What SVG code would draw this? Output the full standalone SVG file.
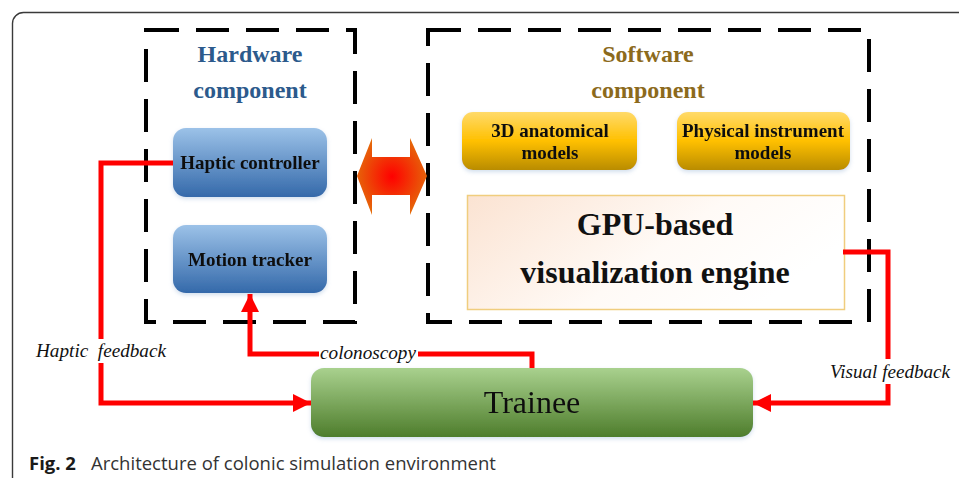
<svg xmlns="http://www.w3.org/2000/svg" width="959" height="478" viewBox="0 0 959 478">
  <style>
    .frame { fill: none; stroke: #3a3a3a; stroke-width: 1.4; }
    .dash { fill: none; stroke: #000; stroke-width: 4; stroke-dasharray: 33 17; }
    .title { font-family: "Liberation Serif", serif; font-weight: bold; font-size: 24px; text-anchor: middle; }
    .bold16 { font-family: "Liberation Serif", serif; font-weight: bold; font-size: 19px; text-anchor: middle; fill: #111; }
    .big { font-family: "Liberation Serif", serif; font-weight: bold; font-size: 32px; text-anchor: middle; fill: #111; }
    .lbl { font-family: "Liberation Serif", serif; font-style: italic; font-size: 18px; fill: #111; }
    .wire { fill: none; stroke: #ff0000; stroke-width: 5; stroke-linejoin: miter; }
    .cap { font-family: "Open Sans", "Noto Sans", sans-serif; font-size: 18.5px; }
  </style>
  <defs>
    <linearGradient id="blue" x1="0" y1="0" x2="0" y2="1">
      <stop offset="0" stop-color="#9cc2e8"/>
      <stop offset="1" stop-color="#3469aa"/>
    </linearGradient>
    <linearGradient id="gold" x1="0" y1="0" x2="0" y2="1">
      <stop offset="0" stop-color="#ffda6a"/>
      <stop offset="0.5" stop-color="#ffc000"/>
      <stop offset="1" stop-color="#b98c00"/>
    </linearGradient>
    <linearGradient id="green" x1="0" y1="0" x2="0" y2="1">
      <stop offset="0" stop-color="#a9d18e"/>
      <stop offset="1" stop-color="#4e7d2c"/>
    </linearGradient>
    <linearGradient id="peach" x1="0" y1="0" x2="1" y2="0.4">
      <stop offset="0" stop-color="#fbe3d2"/>
      <stop offset="0.6" stop-color="#fffaf6"/>
      <stop offset="1" stop-color="#ffffff"/>
    </linearGradient>
    <radialGradient id="hot" cx="0.5" cy="0.5" r="0.55">
      <stop offset="0" stop-color="#ff0000"/>
      <stop offset="1" stop-color="#e46c0a"/>
    </radialGradient>
    <filter id="glow" x="-10%" y="-10%" width="120%" height="130%">
      <feDropShadow dx="0" dy="2" stdDeviation="2" flood-color="#9bb7d8" flood-opacity="0.45"/>
    </filter>
    <marker id="head" viewBox="0 0 10 10" refX="10" refY="5" markerWidth="3.6" markerHeight="3.6" markerUnits="strokeWidth" orient="auto">
      <path d="M0,0 L10,5 L0,10 Z" fill="#ff0000"/>
    </marker>
  </defs>

  <!-- figure frame -->
  <rect class="frame" x="12.5" y="12.5" width="1000" height="1000" rx="11"/>

  <!-- component groupings -->
  <g id="hardware">
    <rect class="dash" x="146" y="30" width="209" height="292"/>
    <text class="title" x="250" y="62" fill="#2c5a8c">Hardware</text>
    <text class="title" x="250" y="98" fill="#2c5a8c">component</text>
  </g>
  <g id="software">
    <rect class="dash" x="428" y="30" width="441" height="292"/>
    <text class="title" x="648" y="62" fill="#8c6a1c">Software</text>
    <text class="title" x="648" y="98" fill="#8c6a1c">component</text>
  </g>

  <!-- two-way exchange between hardware and software -->
  <g id="exchange">
    <path d="M357,176 L372,138 L372,157 L410,157 L410,138 L427,176 L410,215 L410,195 L372,195 L372,215 Z" fill="url(#hot)"/>
  </g>

  <g id="haptic-controller" filter="url(#glow)">
    <rect x="173" y="128" width="154" height="69" rx="13" fill="url(#blue)"/>
    <text class="bold16" x="250" y="169">Haptic controller</text>
  </g>
  <g id="motion-tracker" filter="url(#glow)">
    <rect x="173" y="225" width="154" height="68" rx="13" fill="url(#blue)"/>
    <text class="bold16" x="250" y="266">Motion tracker</text>
  </g>

  <g id="anatomical-models" filter="url(#glow)">
    <rect x="462" y="112" width="175" height="58" rx="11" fill="url(#gold)"/>
    <text class="bold16" x="550" y="137">3D anatomical</text>
    <text class="bold16" x="550" y="159">models</text>
  </g>
  <g id="instrument-models" filter="url(#glow)">
    <rect x="677" y="112" width="173" height="58" rx="11" fill="url(#gold)"/>
    <text class="bold16" x="763" y="137">Physical instrument</text>
    <text class="bold16" x="763" y="159">models</text>
  </g>

  <g id="gpu-engine">
    <rect x="467.5" y="195.5" width="377" height="114" fill="url(#peach)" stroke="#f0cd7e" stroke-width="1.5"/>
    <text class="big" x="655" y="235">GPU-based</text>
    <text class="big" x="655" y="283">visualization engine</text>
  </g>

  <g id="trainee" filter="url(#glow)">
    <rect x="311" y="368" width="442" height="69" rx="13" fill="url(#green)"/>
    <text x="532" y="413" font-family="Liberation Serif, serif" font-size="32" text-anchor="middle" fill="#111">Trainee</text>
  </g>

  <!-- feedback and input paths -->
  <g id="connectors">
    <path class="wire" d="M173,163 L101,163 L101,403 L311,403" marker-end="url(#head)"/>
    <path class="wire" d="M532,368 L532,354 L250,354 L250,294" marker-end="url(#head)"/>
    <path class="wire" d="M843,252 L888,252 L888,403 L753,403" marker-end="url(#head)"/>
    <rect x="34" y="339" width="134" height="24" fill="#fff"/>
    <text class="lbl" x="36" y="357" textLength="130" lengthAdjust="spacingAndGlyphs" xml:space="preserve">Haptic  feedback</text>
    <rect x="319" y="344" width="99" height="21" fill="#fff"/>
    <text class="lbl" x="320" y="359" textLength="96" lengthAdjust="spacingAndGlyphs">colonoscopy</text>
    <rect x="828" y="359" width="124" height="25" fill="#fff"/>
    <text class="lbl" x="830" y="378" textLength="120" lengthAdjust="spacingAndGlyphs">Visual feedback</text>
  </g>

  <!-- caption -->
  <text class="cap" x="29" y="470" fill="#1a1a1a"><tspan font-weight="bold">Fig. 2</tspan><tspan x="91" fill="#333">Architecture of colonic simulation environment</tspan></text>
</svg>
